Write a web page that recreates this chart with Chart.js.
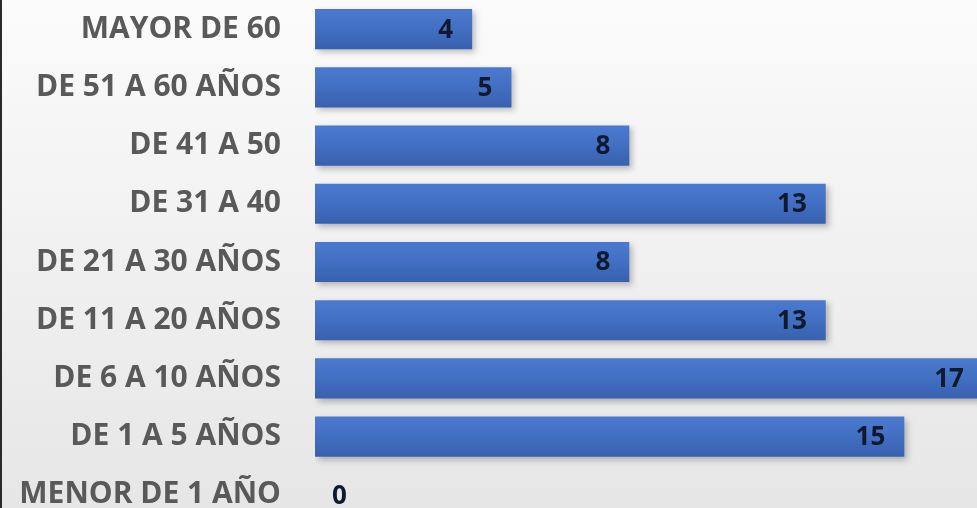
<!DOCTYPE html>
<html>
<head>
<meta charset="utf-8">
<script src="https://cdn.jsdelivr.net/npm/chart.js@4"></script>
<style>
  html, body { margin: 0; padding: 0; overflow: hidden; }
  body { width: 977px; height: 508px; background: linear-gradient(#fbfbfb, #e6e6e6); }
  #myChart { position: absolute; left: 0; top: 0; }
  #edge { position: absolute; left: 0; top: 0; width: 2px; height: 508px; background: #2a2a2a; }
</style>
</head>
<body>
<canvas id="myChart" width="977" height="524"></canvas>
<div id="edge"></div>
<script>
const categories = ["MAYOR DE 60", "DE 51 A 60 AÑOS", "DE 41 A 50", "DE 31 A 40", "DE 21 A 30 AÑOS",
  "DE 11 A 20 AÑOS", "DE 6 A 10 AÑOS", "DE 1 A 5 AÑOS", "MENOR DE 1 AÑO"];
const values = [4, 5, 8, 13, 8, 13, 17, 15, 0];

// draws the numbers at the end of each bar
const valueLabels = {
  id: "valueLabels",
  afterDatasetsDraw(chart) {
    const ctx = chart.ctx;
    const meta = chart.getDatasetMeta(0);
    ctx.save();
    ctx.font = "bold 26px 'Open Sans'";
    ctx.fillStyle = "#0f1a30";
    ctx.textBaseline = "middle";
    meta.data.forEach((bar, i) => {
      const v = values[i];
      if (v === 0) {
        ctx.textAlign = "left";
        ctx.fillText(String(v), bar.base + 17, bar.y + 2);
      } else {
        ctx.textAlign = "right";
        ctx.fillText(String(v), bar.x - 19, bar.y + 1);
      }
    });
    ctx.restore();
  }
};

const barShadow = {
  id: "barShadow",
  beforeDatasetsDraw(chart) {
    const ctx = chart.ctx;
    ctx.save();
    ctx.shadowColor = "rgba(0,0,0,0.25)";
    ctx.shadowBlur = 6;
    ctx.shadowOffsetX = 3;
    ctx.shadowOffsetY = 3;
  },
  afterDatasetsDraw(chart) {
    chart.ctx.restore();
  }
};

function barFill(c) {
  const y = c.chart.scales.y;
  if (!y || !c.chart.chartArea) return "#4170c2";
  const py = y.getPixelForValue(c.dataIndex);
  const g = c.chart.ctx.createLinearGradient(0, py - 20, 0, py + 20);
  g.addColorStop(0, "#4a7ad0");
  g.addColorStop(0.5, "#426fc2");
  g.addColorStop(1, "#3860ae");
  return g;
}

const ctx = document.getElementById("myChart").getContext("2d");
const myChart = new Chart(ctx, {
  type: "bar",
  data: {
    labels: categories,
    datasets: [{
      data: values,
      backgroundColor: barFill,
      borderWidth: 0,
      categoryPercentage: 1,
      barPercentage: 0.69
    }]
  },
  plugins: [barShadow, valueLabels],
  options: {
    indexAxis: "y",
    responsive: false,
    animation: false,
    layout: { padding: 0 },
    plugins: { legend: { display: false }, tooltip: { enabled: false } },
    scales: {
      x: { display: false, min: 0, max: 16.85 },
      y: {
        grid: { display: false, drawTicks: false },
        border: { display: false },
        ticks: { color: "#595959", font: { family: "Open Sans", weight: "bold", size: 30 }, padding: 34 },
        afterFit(scale) {
          scale.width = 315;
          scale.paddingTop = 0;
          scale.paddingBottom = 0;
        }
      }
    }
  }
});
</script>
</body>
</html>
